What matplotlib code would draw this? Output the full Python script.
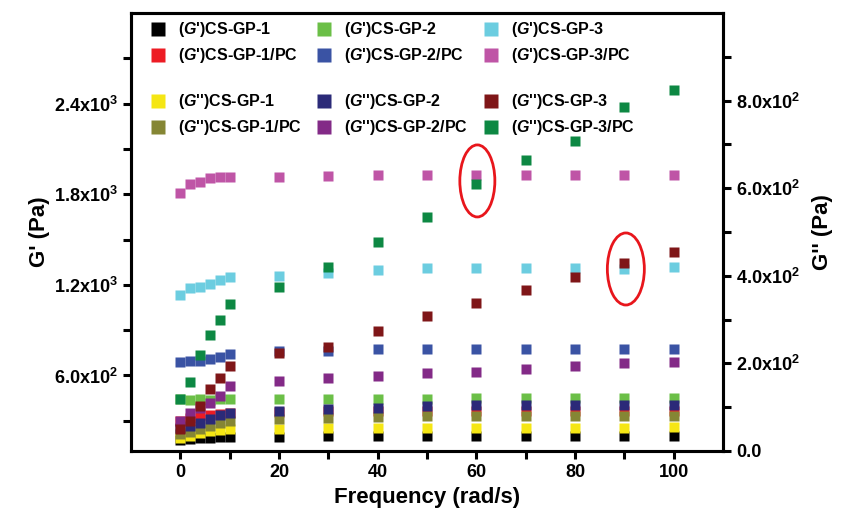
import matplotlib
matplotlib.use("Agg")
import matplotlib.pyplot as plt
from matplotlib.patches import Ellipse
from matplotlib.ticker import FixedLocator, FixedFormatter

plt.rcParams['font.family'] = ['Liberation Sans', 'DejaVu Sans']
plt.rcParams['font.weight'] = 'bold'
plt.rcParams['mathtext.fontset'] = 'custom'
plt.rcParams['mathtext.rm'] = 'Liberation Sans:bold'
plt.rcParams['mathtext.it'] = 'Liberation Sans:italic:bold'
plt.rcParams['mathtext.bf'] = 'Liberation Sans:bold'
plt.rcParams['mathtext.default'] = 'rm'

# ---------------- data ----------------
freq = [0, 2, 4, 6, 8, 10, 20, 30, 40, 50, 60, 70, 80, 90, 100]

# G' (left axis, Pa)
gp_cs1 = [173, 179, 184, 184, 191, 195, 195, 197, 197, 199, 199, 199, 199, 199, 199]
gp_cs1_pc = [300, 320, 332, 338, 345, 350, 358, 362, 364, 366, 367, 367, 367, 367, 367]
gp_cs2 = [442, 438, 442, 440, 442, 442, 442, 444, 446, 447, 448, 449, 449, 449, 449]
gp_cs2_pc = [691, 696, 697, 707, 720, 742, 765, 765, 775, 777, 777, 777, 778, 778, 778]
gp_cs3 = [1133, 1177, 1188, 1206, 1232, 1252, 1261, 1276, 1298, 1310, 1310, 1310, 1312, 1307, 1318]
gp_cs3_pc = [1810, 1866, 1883, 1906, 1912, 1916, 1916, 1923, 1929, 1929, 1929, 1929, 1929, 1929, 1929]

# G'' (right axis, Pa)
gpp_cs1 = [29, 34, 40, 46, 48, 50, 50, 52, 53, 53, 53, 53, 53, 53, 54]
gpp_cs2 = [52, 56, 65, 72, 82, 87, 91, 95, 98, 103, 105, 105, 105, 105, 105]
gpp_cs3 = [50, 69, 103, 141, 166, 194, 223, 238, 274, 308, 337, 368, 397, 430, 455]
gpp_cs1_pc = [39, 44, 50, 57, 63, 69, 72, 75, 77, 80, 80, 80, 80, 80, 80]
gpp_cs2_pc = [69, 87, 99, 110, 126, 148, 160, 166, 171, 177, 181, 188, 193, 200, 204]
gpp_cs3_pc = [118, 158, 219, 265, 299, 335, 375, 421, 476, 535, 609, 664, 708, 785, 824]

gp_labels = [r"($\mathit{G}$')CS-GP-1", r"($\mathit{G}$')CS-GP-1/PC", r"($\mathit{G}$')CS-GP-2",
             r"($\mathit{G}$')CS-GP-2/PC", r"($\mathit{G}$')CS-GP-3", r"($\mathit{G}$')CS-GP-3/PC"]
gpp_labels = [r"($\mathit{G}$'')CS-GP-1", r"($\mathit{G}$'')CS-GP-1/PC", r"($\mathit{G}$'')CS-GP-2",
              r"($\mathit{G}$'')CS-GP-2/PC", r"($\mathit{G}$'')CS-GP-3", r"($\mathit{G}$'')CS-GP-3/PC"]
gp_colors = ['#000000', '#ED1C24', '#6BBF47', '#3A53A4', '#6CCDE0', '#BF55A6']
gpp_colors = ['#F5E614', '#858634', '#2B2A78', '#832A87', '#7F1618', '#0D8843']

x_ticks = [0, 20, 40, 60, 80, 100]
x_minor = [10, 30, 50, 70, 90]
left_ticks = [600, 1200, 1800, 2400]
left_ticklabels = [r"6.0x10$^2$", r"1.2x10$^3$", r"1.8x10$^3$", r"2.4x10$^3$"]
left_minor = [300, 900, 1500, 2100, 2700]
right_ticks = [0, 200, 400, 600, 800]
right_ticklabels = ["0.0", r"2.0x10$^2$", r"4.0x10$^2$", r"6.0x10$^2$", r"8.0x10$^2$"]
right_minor = [100, 300, 500, 700, 900]

# ---------------- figure ----------------
fig = plt.figure(figsize=(8.43, 5.13), dpi=100)
ax = fig.add_axes([0.1554, 0.1209, 0.7023, 0.8538])
ax2 = ax.twinx()

ms = 6.5
gp_series = [gp_cs1, gp_cs1_pc, gp_cs2, gp_cs2_pc, gp_cs3, gp_cs3_pc]
gpp_series = [gpp_cs1, gpp_cs1_pc, gpp_cs2, gpp_cs2_pc, gpp_cs3, gpp_cs3_pc]

h1 = []
for vals, c, lab in zip(gp_series, gp_colors, gp_labels):
    h, = ax.plot(freq, vals, 's', color=c, ms=ms, mec='none', label=lab)
    h1.append(h)
h2 = []
for vals, c, lab in zip(gpp_series, gpp_colors, gpp_labels):
    h, = ax2.plot(freq, vals, 's', color=c, ms=ms, mec='none', label=lab)
    h2.append(h)

ax.set_xlim(-10, 110)
ax.set_ylim(100, 3000)
ax2.set_ylim(0, 1000)

ax.xaxis.set_major_locator(FixedLocator(x_ticks))
ax.xaxis.set_minor_locator(FixedLocator(x_minor))
ax.yaxis.set_major_locator(FixedLocator(left_ticks))
ax.yaxis.set_major_formatter(FixedFormatter(left_ticklabels))
ax.yaxis.set_minor_locator(FixedLocator(left_minor))
ax2.yaxis.set_major_locator(FixedLocator(right_ticks))
ax2.yaxis.set_major_formatter(FixedFormatter(right_ticklabels))
ax2.yaxis.set_minor_locator(FixedLocator(right_minor))

for a in (ax, ax2):
    for s in a.spines.values():
        s.set_linewidth(2.2)
ax.tick_params(which='both', direction='out', width=2.2, labelsize=13, length=6)
ax.tick_params(axis='y', right=False)
ax2.tick_params(which='both', direction='out', width=2.2, labelsize=13, length=6)

ax.set_xlabel("Frequency (rad/s)", fontsize=16, fontweight='bold', labelpad=4)
ax.set_ylabel("G' (Pa)", fontsize=16, fontweight='bold', labelpad=3)
ax2.set_ylabel("G'' (Pa)", fontsize=16, fontweight='bold', labelpad=9, rotation=90)

# red ellipses
for cx, cy, w, hgt in [(60.2, 1888, 7.1, 477), (90.3, 1305, 7.5, 477)]:
    ax.add_patch(Ellipse((cx, cy), w, hgt, fill=False, ec='#E8161C', lw=2.0, zorder=5))

# legends: one per column and group, for exact placement
leg_kw = dict(ncol=1, frameon=False, fontsize=11.5, markerscale=1.45,
              handlelength=1.0, handletextpad=0.75, labelspacing=0.42,
              borderpad=0.0, borderaxespad=0.0, loc='upper left')
col_x = [0.0321, 0.3125, 0.5946]
row_y = [0.983, 0.8185]
legs = []
for gi, handles in enumerate([h1, h2]):
    for ci in range(3):
        leg = ax2.legend(handles=handles[2 * ci:2 * ci + 2],
                         bbox_to_anchor=(col_x[ci], row_y[gi]), **leg_kw)
        legs.append(leg)
for leg in legs[:-1]:
    ax2.add_artist(leg)

fig.savefig("out.png", dpi=100)
